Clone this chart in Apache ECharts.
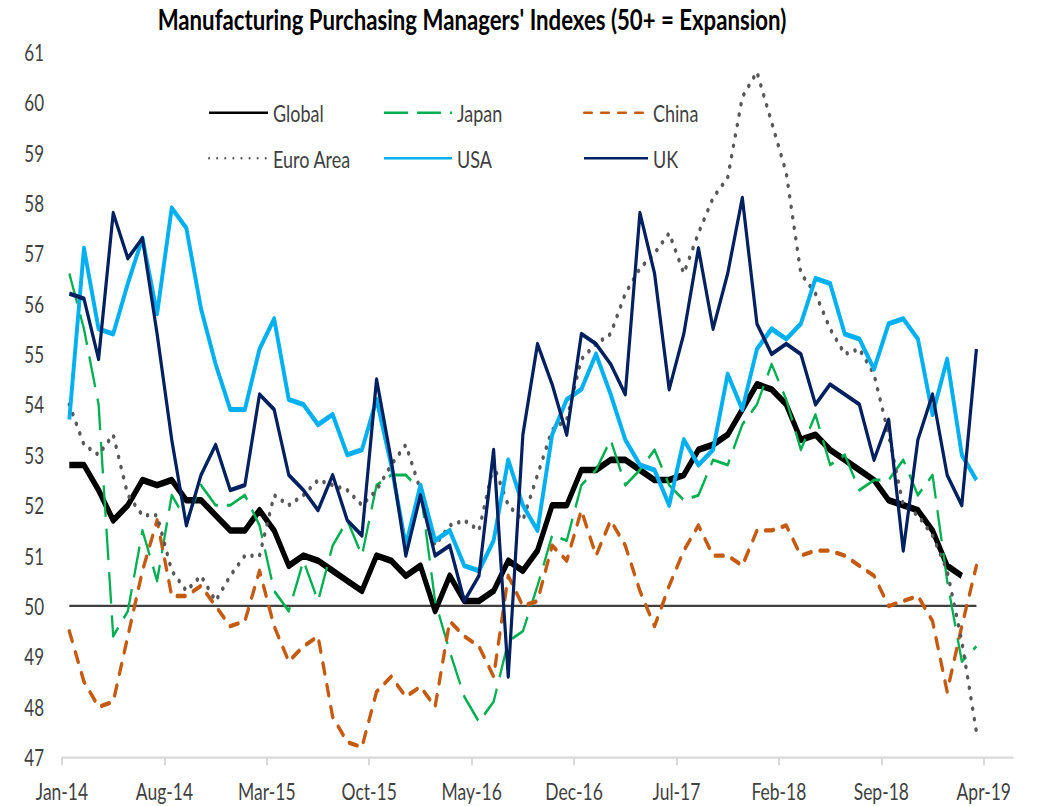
<!DOCTYPE html>
<html>
<head>
<meta charset="utf-8">
<script src="https://cdn.jsdelivr.net/npm/echarts@6/dist/echarts.min.js"></script>
<style>
  html, body { margin: 0; padding: 0; background: #ffffff; }
  #wrap { width: 1046px; height: 806px; overflow: hidden; position: relative; }
  #chart { width: 1046px; position: absolute; left: 0; top: 0; transform-origin: 0 0; }
</style>
</head>
<body>
<div id="wrap"><div id="chart"></div></div>
<script>
// ---- Data ----
const months = [
  'Jan-14','Feb-14','Mar-14','Apr-14','May-14','Jun-14','Jul-14','Aug-14','Sep-14','Oct-14','Nov-14','Dec-14',
  'Jan-15','Feb-15','Mar-15','Apr-15','May-15','Jun-15','Jul-15','Aug-15','Sep-15','Oct-15','Nov-15','Dec-15',
  'Jan-16','Feb-16','Mar-16','Apr-16','May-16','Jun-16','Jul-16','Aug-16','Sep-16','Oct-16','Nov-16','Dec-16',
  'Jan-17','Feb-17','Mar-17','Apr-17','May-17','Jun-17','Jul-17','Aug-17','Sep-17','Oct-17','Nov-17','Dec-17',
  'Jan-18','Feb-18','Mar-18','Apr-18','May-18','Jun-18','Jul-18','Aug-18','Sep-18','Oct-18','Nov-18','Dec-18',
  'Jan-19','Feb-19','Mar-19'
];
const tickLabels = ['Jan-14','Aug-14','Mar-15','Oct-15','May-16','Dec-16','Jul-17','Feb-18','Sep-18','Apr-19'];
const yTicks = [47,48,49,50,51,52,53,54,55,56,57,58,59,60,61];
const expansionLevel = 50;

const globalPMI = [
  52.8,52.8,52.3,51.7,52.0,52.5,52.4,52.5,52.1,52.1,
  51.8,51.5,51.5,51.9,51.5,50.8,51.0,50.9,50.7,50.5,
  50.3,51.0,50.9,50.6,50.8,49.9,50.6,50.1,50.1,50.3,
  50.9,50.7,51.1,52.0,52.0,52.7,52.7,52.9,52.9,52.7,
  52.5,52.5,52.6,53.1,53.2,53.4,53.9,54.4,54.3,54.0,
  53.3,53.4,53.1,52.9,52.7,52.5,52.1,52.0,51.9,51.5,
  50.8,50.6
];
const japanPMI = [
  56.6,55.5,54.0,49.4,49.9,51.5,50.5,52.2,51.7,52.4,
  52.0,52.0,52.2,51.6,50.3,49.9,50.9,50.1,51.2,51.7,
  51.0,52.4,52.6,52.6,52.3,50.1,49.1,48.2,47.7,48.1,
  49.3,49.5,50.4,51.4,51.3,52.4,52.7,53.3,52.4,52.7,
  53.1,52.4,52.1,52.2,52.9,52.8,53.6,54.0,54.8,54.1,
  53.1,53.8,52.8,53.0,52.3,52.5,52.5,52.9,52.2,52.6,
  50.5,48.9,49.2
];
const chinaPMI = [
  49.5,48.5,48.0,48.1,49.4,50.7,51.7,50.2,50.2,50.4,
  50.0,49.6,49.7,50.7,49.6,48.9,49.2,49.4,47.8,47.3,
  47.2,48.3,48.6,48.2,48.4,48.0,49.7,49.4,49.2,48.6,
  50.6,50.0,50.1,51.2,50.9,51.9,51.0,51.7,51.2,50.3,
  49.6,50.4,51.1,51.6,51.0,51.0,50.8,51.5,51.5,51.6,
  51.0,51.1,51.1,51.0,50.8,50.6,50.0,50.1,50.2,49.7,
  48.3,49.6,50.8
];
const euroPMI = [
  54.0,53.2,53.0,53.4,52.2,51.8,51.8,50.7,50.3,50.6,
  50.1,50.6,51.0,51.0,52.2,52.0,52.2,52.5,52.4,52.3,
  52.0,52.3,52.8,53.2,52.3,51.2,51.6,51.7,51.5,52.8,
  52.0,51.7,52.6,53.5,53.7,54.9,55.2,55.4,56.2,56.7,
  57.0,57.4,56.6,57.4,58.1,58.5,60.1,60.6,59.6,58.6,
  56.6,56.2,55.5,55.0,55.1,54.6,53.4,52.0,51.8,51.4,
  50.7,49.3,47.5
];
const usaPMI = [
  53.7,57.1,55.5,55.4,56.4,57.3,55.8,57.9,57.5,55.9,
  54.8,53.9,53.9,55.1,55.7,54.1,54.0,53.6,53.8,53.0,
  53.1,54.1,52.8,51.2,52.4,51.3,51.5,50.8,50.7,51.3,
  52.9,52.0,51.5,53.4,54.1,54.3,55.0,54.2,53.3,52.8,
  52.7,52.0,53.3,52.8,53.1,54.6,53.9,55.1,55.5,55.3,
  55.6,56.5,56.4,55.4,55.3,54.7,55.6,55.7,55.3,53.8,
  54.9,53.0,52.5
];
const ukPMI = [
  56.2,56.1,54.9,57.8,56.9,57.3,55.4,53.3,51.6,52.6,
  53.2,52.3,52.4,54.2,53.9,52.6,52.3,51.9,52.6,51.7,
  51.4,54.5,52.9,51.0,52.2,51.0,51.2,50.1,50.6,53.1,
  48.6,53.4,55.2,54.4,53.4,55.4,55.2,54.8,54.2,57.8,
  56.6,54.3,55.4,57.1,55.5,56.6,58.1,55.6,55.0,55.2,
  55.0,54.0,54.4,54.2,54.0,52.9,53.7,51.1,53.3,54.2,
  52.6,52.0,55.1
];

// ---- Layout: the reference is drawn with tall, narrow lettering; the chart is laid out
// at a reduced height and stretched vertically to the 806px frame ----
const STRETCH = 1.32;
const FULL_H = 806;
const py = v => v / STRETCH;            // final-pixel vertical measure -> layout units
const chartEl = document.getElementById('chart');
chartEl.style.height = (FULL_H / STRETCH) + 'px';
chartEl.style.transform = 'scaleY(' + STRETCH + ')';

// x is measured in months from Jan-14; each reading sits mid-month
const TICK_STEP = 7;
const tickValues = tickLabels.map((_, k) => k * TICK_STEP);
const AXIS_MAX = months.length + 2;
const toPoints = arr => arr.map((v, i) => [i + 0.5, v]);

const FONT = "Lato, Carlito, 'Liberation Sans Narrow', sans-serif";
const TXT = '#404040';

const chart = echarts.init(chartEl, null, { renderer: 'svg' });

function lineSeries(name, data, color, width, dash, cap, z) {
  return {
    name: name,
    type: 'line',
    data: toPoints(data),
    symbol: 'none',
    showSymbol: false,
    smooth: false,
    z: z,
    lineStyle: { color: color, width: width, type: dash, cap: cap, join: 'round' },
    itemStyle: { color: color },
    emphasis: { disabled: true }
  };
}

const LEG_LINE_H = 20;
const legendText = { fontFamily: FONT, fontSize: 18, color: TXT, lineHeight: LEG_LINE_H };
function legendCol(names, left, itemWidth) {
  return {
    data: names,
    orient: 'vertical',
    left: left,
    top: py(112.7) - LEG_LINE_H / 2,
    itemWidth: itemWidth,
    itemHeight: 12,
    itemGap: py(158.3 - 112.7) - LEG_LINE_H,
    padding: 0,
    selectedMode: false,
    itemStyle: { opacity: 0 },
    textStyle: legendText
  };
}

const series = [
  lineSeries('Global', globalPMI, '#000000', 5, 'solid', 'butt', 2),
  lineSeries('Japan', japanPMI, '#00B050', 2.3, [24, 9], 'butt', 3),
  lineSeries('China', chinaPMI, '#C55A11', 3.3, [8, 9], 'round', 4),
  lineSeries('Euro Area', euroPMI, '#595959', 3.4, [0.1, 8], 'round', 5),
  lineSeries('USA', usaPMI, '#00B0F0', 3.9, 'solid', 'butt', 6),
  lineSeries('UK', ukPMI, '#002060', 3.2, 'solid', 'butt', 7)
];
// 50 = expansion threshold line, spanning the reporting period
series[0].markLine = {
  silent: true,
  symbol: 'none',
  label: { show: false },
  lineStyle: { color: '#404040', width: 1.7, type: 'solid' },
  z: 1,
  data: [[
    { coord: [0.5, expansionLevel] },
    { coord: [months.length - 0.5, expansionLevel] }
  ]]
};

const option = {
  animation: false,
  backgroundColor: '#ffffff',
  title: {
    text: "Manufacturing Purchasing Managers' Indexes (50+ = Expansion)",
    left: 472,
    textAlign: 'center',
    top: py(4),
    padding: 0,
    textStyle: { fontFamily: FONT, fontSize: 22.2, fontWeight: 'bold', color: '#000000' }
  },
  legend: [
    legendCol(['Global', 'Euro Area'], 208, 59),
    legendCol(['Japan', 'USA'], 383, 68),
    legendCol(['China', 'UK'], 583, 64)
  ],
  grid: { left: 62, right: 33, top: py(51.7), bottom: py(FULL_H - 756.7), containLabel: false },
  xAxis: {
    type: 'value',
    min: 0,
    max: AXIS_MAX,
    interval: TICK_STEP,
    splitLine: { show: false },
    axisLine: { show: true, lineStyle: { color: '#D9D9D9', width: 1.6 } },
    axisTick: { show: true, length: py(8), lineStyle: { color: '#D9D9D9', width: 2 }, customValues: tickValues },
    axisLabel: {
      customValues: tickValues,
      margin: py(790 - 756.7) - 8.5,
      fontFamily: FONT, fontSize: 17.5, color: TXT,
      formatter: v => {
        const k = tickValues.indexOf(v);
        return k >= 0 ? tickLabels[k] : '';
      }
    }
  },
  yAxis: {
    type: 'value',
    min: yTicks[0],
    max: yTicks[yTicks.length - 1],
    interval: 1,
    splitLine: { show: false },
    axisLine: { show: false },
    axisTick: { show: false },
    axisLabel: { margin: 18, fontFamily: FONT, fontSize: 17, color: TXT }
  },
  series: series
};

chart.setOption(option);
</script>
</body>
</html>
